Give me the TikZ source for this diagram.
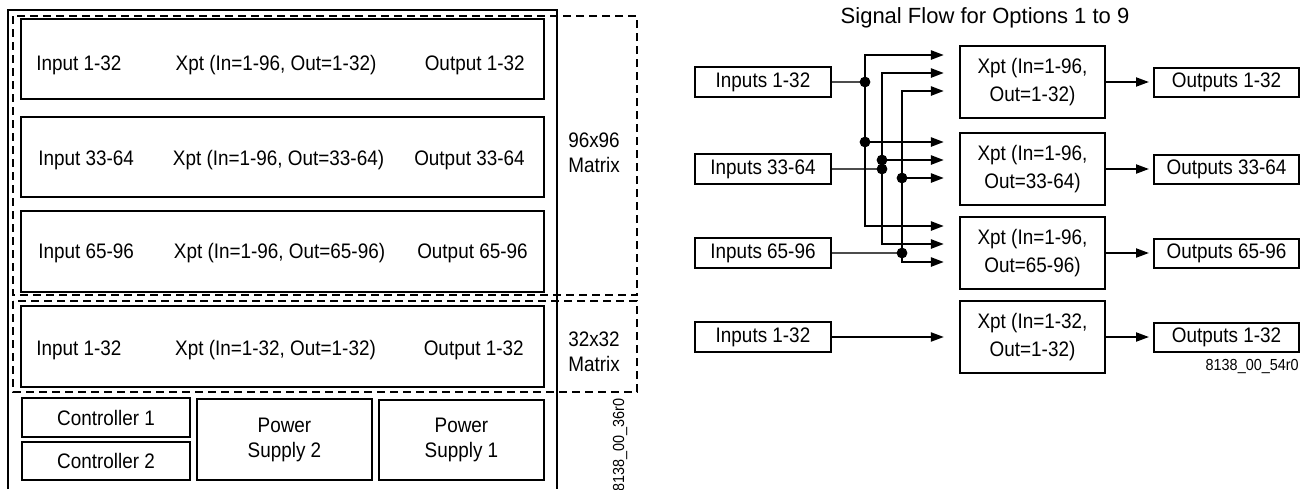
\documentclass[tikz,border=0pt]{standalone}
\usepackage{fontspec}
\setmainfont{Liberation Sans}[FakeStretch=0.9]
\newfontfamily\titulofont{Liberation Sans}
\usetikzlibrary{arrows.meta}

\begin{document}
\begin{tikzpicture}[
    x=0.5pt, y=-0.5pt,
    font=\fontsize{10.5}{12.5}\selectfont,
    >={Triangle[length=6.5pt,width=4.5pt]},
    bloque/.style={
        draw,
        line width=1pt,
        inner sep=0pt,
        align=center
    },
    texto/.style={inner sep=0pt},
    marco/.style={draw, line width=1pt, dash pattern=on 4pt off 2.5pt},
    bus/.style={line width=1.2pt},
    entrada/.style={line width=0.9pt, black!70},
    union/.style={circle, fill, inner sep=0pt, minimum size=5.4pt}
]
    \useasboundingbox (0,0) rectangle (1311,489);

    % chasis y matrices
    \draw[line width=1pt] (8,489) -- (8,10) -- (557,10) -- (557,489);
    \draw[marco] (13,16) rectangle (637,295);
    \draw[marco] (13,301) rectangle (637,392);
    \node[texto, align=center] (mat-96) at (594,153) {96x96\\Matrix};
    \node[texto, align=center] (mat-32) at (594,352) {32x32\\Matrix};

    \node[bloque, minimum width=261.5pt, minimum height=40pt] (fila-a) at (282.5,59) {};
    \node[texto, anchor=base west] (fila-a-in) at (36,70) {Input 1-32};
    \node[texto, anchor=base] (fila-a-xpt) at (276,70) {Xpt (In=1-96, Out=1-32)};
    \node[texto, anchor=base east] (fila-a-out) at (525,70) {Output 1-32};

    \node[bloque, minimum width=261.5pt, minimum height=40pt] (fila-b) at (282.5,157) {};
    \node[texto, anchor=base west] (fila-b-in) at (38,165) {Input 33-64};
    \node[texto, anchor=base] (fila-b-xpt) at (278.5,165) {Xpt (In=1-96, Out=33-64)};
    \node[texto, anchor=base east] (fila-b-out) at (525,165) {Output 33-64};

    \node[bloque, minimum width=261.5pt, minimum height=40.5pt] (fila-c) at (282.5,251.5) {};
    \node[texto, anchor=base west] (fila-c-in) at (38,258) {Input 65-96};
    \node[texto, anchor=base] (fila-c-xpt) at (279.5,258) {Xpt (In=1-96, Out=65-96)};
    \node[texto, anchor=base east] (fila-c-out) at (528,258) {Output 65-96};

    \node[bloque, minimum width=261.5pt, minimum height=40.5pt] (fila-d) at (282.5,346.5) {};
    \node[texto, anchor=base west] (fila-d-in) at (36,355) {Input 1-32};
    \node[texto, anchor=base] (fila-d-xpt) at (275.5,355) {Xpt (In=1-32, Out=1-32)};
    \node[texto, anchor=base east] (fila-d-out) at (524,355) {Output 1-32};

    \node[bloque, minimum width=84pt, minimum height=19.5pt] (ctl-a) at (106,417.5) {Controller 1};
    \node[bloque, minimum width=84pt, minimum height=19pt] (ctl-b) at (106,461) {Controller 2};
    \node[bloque, minimum width=87.5pt, minimum height=40.5pt] (fuente-b) at (284.5,439.5) {Power\\Supply 2};
    \node[bloque, minimum width=82.5pt, minimum height=40pt] (fuente-a) at (461.5,440) {Power\\Supply 1};
    \node[texto, rotate=90, anchor=east, font=\fontsize{8}{9.6}\selectfont] (ref-izq) at (620,398) {8138\_00\_36r0};

    % flujo de senal
    \node[texto, font=\titulofont\fontsize{11}{13}\selectfont] (titulo) at (985,18) {Signal Flow for Options 1 to 9};

    \node[bloque, minimum width=68pt, minimum height=15pt] (ent-a) at (763,82) {Inputs 1-32};
    \node[bloque, minimum width=68pt, minimum height=15pt] (ent-b) at (763,169) {Inputs 33-64};
    \node[bloque, minimum width=68pt, minimum height=15pt] (ent-c) at (763,253) {Inputs 65-96};
    \node[bloque, minimum width=68pt, minimum height=15pt] (ent-d) at (763,337) {Inputs 1-32};

    \node[bloque, line width=1.1pt, minimum width=72.5pt, minimum height=36pt,
        font=\fontsize{10.5}{14}\selectfont] (xpt-a) at (1032.5,82) {Xpt (In=1-96,\\Out=1-32)};
    \node[bloque, line width=1.1pt, minimum width=72.5pt, minimum height=36pt,
        font=\fontsize{10.5}{14}\selectfont] (xpt-b) at (1032.5,169) {Xpt (In=1-96,\\Out=33-64)};
    \node[bloque, line width=1.1pt, minimum width=72.5pt, minimum height=36pt,
        font=\fontsize{10.5}{14}\selectfont] (xpt-c) at (1032.5,253) {Xpt (In=1-96,\\Out=65-96)};
    \node[bloque, line width=1.1pt, minimum width=72.5pt, minimum height=36pt,
        font=\fontsize{10.5}{14}\selectfont] (xpt-d) at (1032.5,337) {Xpt (In=1-32,\\Out=1-32)};

    \node[bloque, minimum width=72.5pt, minimum height=14.5pt] (sal-a) at (1226.5,82) {Outputs 1-32};
    \node[bloque, minimum width=72.5pt, minimum height=14.5pt] (sal-b) at (1226.5,169) {Outputs 33-64};
    \node[bloque, minimum width=72.5pt, minimum height=14.5pt] (sal-c) at (1226.5,253) {Outputs 65-96};
    \node[bloque, minimum width=72.5pt, minimum height=14.5pt] (sal-d) at (1226.5,337) {Outputs 1-32};
    \node[texto, anchor=base east, font=\fontsize{8}{9.6}\selectfont] (ref-der) at (1299,370) {8138\_00\_54r0};

    % puntas de flecha antes de cada Xpt
    \coordinate (t-a-1) at ([xshift=-7.5pt, yshift=13.5pt]xpt-a.west);
    \coordinate (t-a-2) at ([xshift=-7.5pt, yshift=4.5pt]xpt-a.west);
    \coordinate (t-a-3) at ([xshift=-7.5pt, yshift=-4.5pt]xpt-a.west);
    \coordinate (t-b-1) at ([xshift=-7.5pt, yshift=13.5pt]xpt-b.west);
    \coordinate (t-b-2) at ([xshift=-7.5pt, yshift=4.5pt]xpt-b.west);
    \coordinate (t-b-3) at ([xshift=-7.5pt, yshift=-4.5pt]xpt-b.west);
    \coordinate (t-c-1) at ([xshift=-7.5pt, yshift=13.5pt]xpt-c.west);
    \coordinate (t-c-2) at ([xshift=-7.5pt, yshift=4.5pt]xpt-c.west);
    \coordinate (t-c-3) at ([xshift=-7.5pt, yshift=-4.5pt]xpt-c.west);
    \coordinate (t-d) at ([xshift=-7.5pt]xpt-d.west);
    \coordinate (bus-1) at (865,0);
    \coordinate (bus-2) at (882,0);
    \coordinate (bus-3) at (902,0);

    \draw[entrada] (ent-a.east) -- (bus-1 |- ent-a.east);
    \draw[entrada] (ent-b.east) -- (bus-2 |- ent-b.east);
    \draw[entrada] (ent-c.east) -- (bus-3 |- ent-c.east);

    \draw[bus,<->] (t-a-1) -- (bus-1 |- t-a-1) -- (bus-1 |- t-c-1) -- (t-c-1);
    \draw[bus,<->] (t-a-2) -- (bus-2 |- t-a-2) -- (bus-2 |- t-c-2) -- (t-c-2);
    \draw[bus,<->] (t-a-3) -- (bus-3 |- t-a-3) -- (bus-3 |- t-c-3) -- (t-c-3);
    \draw[bus,->] (bus-1 |- t-b-1) -- (t-b-1);
    \draw[bus,->] (bus-2 |- t-b-2) -- (t-b-2);
    \draw[bus,->] (bus-3 |- t-b-3) -- (t-b-3);

    \node[union] (u-a) at (bus-1 |- ent-a.east) {};
    \node[union] (u-b) at (bus-2 |- ent-b.east) {};
    \node[union] (u-c) at (bus-3 |- ent-c.east) {};
    \node[union] (u-b1) at (bus-1 |- t-b-1) {};
    \node[union] (u-b2) at (bus-2 |- t-b-2) {};
    \node[union] (u-b3) at (bus-3 |- t-b-3) {};

    \draw[->,line width=1pt] (ent-d.east) -- (t-d);
    \draw[->,line width=1pt,shorten >=2pt] (xpt-a.east) -- (sal-a.west);
    \draw[->,line width=1pt,shorten >=2pt] (xpt-b.east) -- (sal-b.west);
    \draw[->,line width=1pt,shorten >=2pt] (xpt-c.east) -- (sal-c.west);
    \draw[->,line width=1pt,shorten >=2pt] (xpt-d.east) -- (sal-d.west);
\end{tikzpicture}
\end{document}
